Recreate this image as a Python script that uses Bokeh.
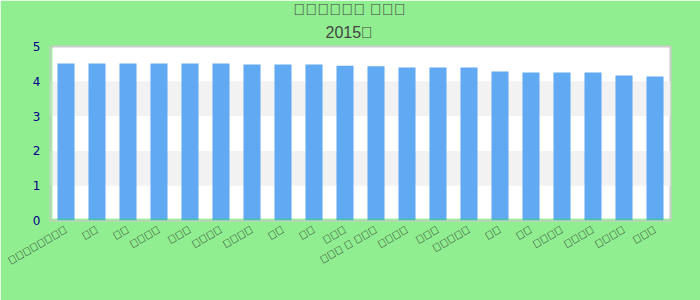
import math
from bokeh.plotting import figure
from bokeh.models import Title, BoxAnnotation, FixedTicker
from bokeh.embed import file_html
from bokeh.resources import INLINE

# The reference shows every non-Latin character as an empty "tofu" box;
# the original glyphs cannot be read, so private-use characters stand in.
def tofu(start, n):
    return "".join(chr(0xE000 + start + i) for i in range(n))

title_text = tofu(0, 6) + " " + tofu(6, 3)
subtitle_text = "2015" + tofu(9, 1)

label_lengths = [8, 2, 2, 4, 3, 4, 4, 2, 2, 3, (3, 1, 3), 4, 3, 5, 2, 2, 4, 4, 4, 3]
categories = []
_k = 20
for L in label_lengths:
    if isinstance(L, tuple):
        parts = []
        for n in L:
            parts.append(tofu(_k, n))
            _k += n
        categories.append(" ".join(parts))
    else:
        categories.append(tofu(_k, L))
        _k += L

values = [4.51, 4.51, 4.51, 4.51, 4.51, 4.51, 4.48, 4.48, 4.48, 4.45,
          4.43, 4.40, 4.40, 4.40, 4.28, 4.25, 4.25, 4.25, 4.17, 4.14]
y_ticks = [0, 1, 2, 3, 4, 5]

p = figure(x_range=categories, y_range=(0, 5), width=700, height=300,
           output_backend="svg", toolbar_location=None,
           min_border_left=50, min_border_right=30, min_border_bottom=80,
           min_border_top=0)
p.title = None
p.border_fill_color = "#90ee90"
p.background_fill_color = "white"
p.outline_line_color = "#cccccc"
p.outline_line_width = 2

p.x_range.range_padding = 0
p.vbar(x=categories, top=values, width=0.55, color="#62a9f3", line_color=None)

p.xgrid.grid_line_color = None
p.ygrid.grid_line_color = None
p.ygrid.band_fill_color = "#f2f2f2"
p.ygrid.band_fill_alpha = 1.0

p.yaxis.ticker = FixedTicker(ticks=y_ticks)
p.yaxis.axis_line_color = None
p.yaxis.major_tick_line_color = None
p.yaxis.minor_tick_line_color = None
p.yaxis.major_tick_out = 0
p.yaxis.major_label_standoff = 10
p.yaxis.major_label_text_color = "#00008b"
p.yaxis.major_label_text_font = "DejaVu Sans"
p.yaxis.major_label_text_font_size = "12px"

p.xaxis.axis_line_color = None
p.xaxis.major_tick_line_color = None
p.xaxis.major_tick_out = 0
p.xaxis.major_label_standoff = 8
p.xaxis.major_label_orientation = math.pi / 6
p.xaxis.major_label_text_color = "#222222"
p.xaxis.major_label_text_font_size = "11px"

sub = Title(text=subtitle_text, align="left", text_font_size="16px",
            text_font_style="normal", text_color="#444444", standoff=12,
            offset=275)
main = Title(text=title_text, align="left", text_font_size="16px",
             text_font_style="normal", text_color="#444444", standoff=-4,
             offset=243)
p.add_layout(sub, "above")
p.add_layout(main, "above")

frame_border = BoxAnnotation(left=1, right=699, top=1, bottom=299,
                             left_units="screen", right_units="screen",
                             top_units="screen", bottom_units="screen",
                             fill_color=None, line_color="#00ff00", line_width=2)
p.add_layout(frame_border)

open("out.html", "w").write(file_html(p, INLINE))
